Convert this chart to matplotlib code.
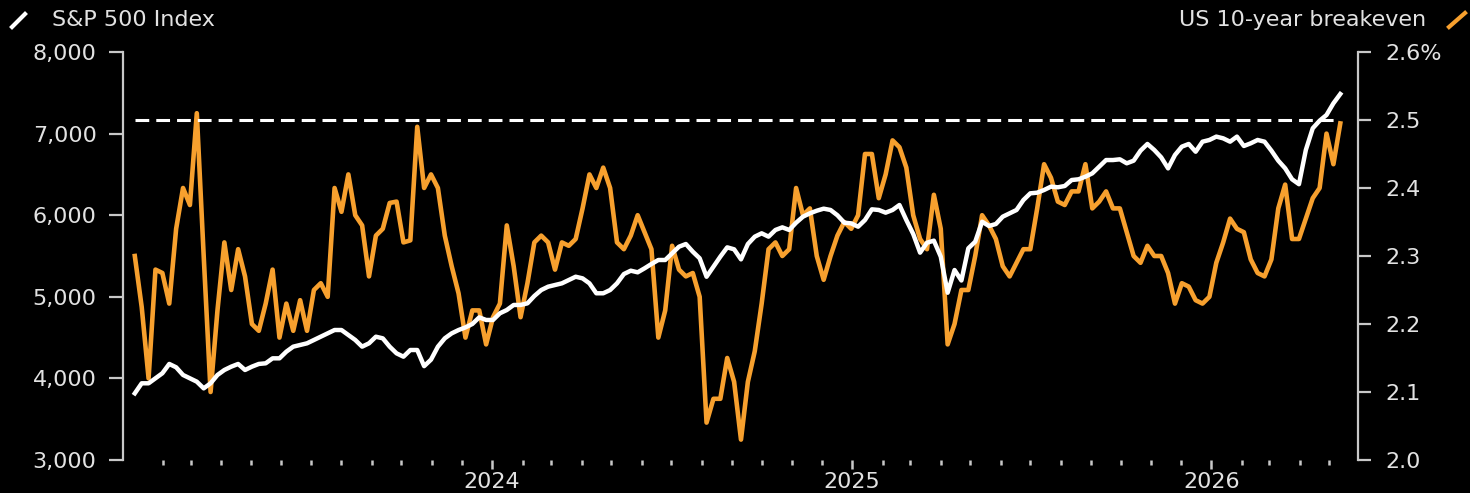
import numpy as np
import pandas as pd
import matplotlib
matplotlib.use("Agg")
import matplotlib.pyplot as plt
import matplotlib.dates as mdates
from matplotlib.lines import Line2D
from matplotlib.ticker import FuncFormatter

# weekly readings, first one on 3 Jan 2023
start = "2023-01-03"

spx = [3817, 3940, 3940, 4001, 4063, 4177, 4136, 4042, 4001, 3960,
       3878, 3940, 4042, 4103, 4144, 4177, 4103, 4144, 4177, 4185,
       4246, 4246, 4328, 4389, 4409, 4430, 4471, 4511, 4552, 4593,
       4593, 4532, 4471, 4389, 4430, 4511, 4491, 4389, 4307, 4266,
       4348, 4348, 4150, 4230, 4389, 4491, 4552, 4593, 4625, 4667,
       4748, 4716, 4716, 4798, 4838, 4900, 4900, 4920, 5010, 5083,
       5124, 5145, 5165, 5206, 5246, 5226, 5165, 5043, 5043, 5083,
       5165, 5279, 5320, 5300, 5349, 5402, 5451, 5451, 5533, 5614,
       5647, 5553, 5472, 5246, 5369, 5492, 5606, 5582, 5459, 5647,
       5737, 5778, 5737, 5819, 5851, 5819, 5908, 5982, 6023, 6055,
       6080, 6064, 5999, 5908, 5900, 5859, 5941, 6072, 6064, 6031,
       6064, 6125, 5941, 5770, 5541, 5663, 5688, 5492, 5050, 5328,
       5200, 5594, 5675, 5920, 5868, 5892, 5982, 6023, 6064, 6186,
       6268, 6276, 6309, 6350, 6342, 6358, 6431, 6440, 6472, 6513,
       6595, 6676, 6676, 6685, 6636, 6668, 6791, 6873, 6799, 6709,
       6574, 6738, 6840, 6873, 6778, 6901, 6922, 6963, 6942, 6901,
       6963, 6848, 6881, 6922, 6901, 6791, 6668, 6574, 6440, 6380,
       6800, 7065, 7158, 7228, 7371, 7485]

breakeven = [2.30, 2.225, 2.12, 2.28, 2.275, 2.23, 2.34, 2.40, 2.375, 2.51,
             2.30, 2.10, 2.22, 2.32, 2.25, 2.31, 2.27, 2.20, 2.19, 2.23,
             2.28, 2.18, 2.23, 2.19, 2.235, 2.19, 2.25, 2.26, 2.24, 2.40,
             2.365, 2.42, 2.36, 2.345, 2.27, 2.33, 2.34, 2.378, 2.38, 2.32,
             2.323, 2.49, 2.40, 2.42, 2.40, 2.33, 2.285, 2.245, 2.18, 2.22,
             2.22, 2.17, 2.21, 2.23, 2.345, 2.285, 2.21, 2.26, 2.32, 2.33,
             2.32, 2.28, 2.32, 2.315, 2.325, 2.37, 2.42, 2.40, 2.43, 2.40,
             2.32, 2.31, 2.33, 2.36, 2.335, 2.31, 2.18, 2.22, 2.315, 2.28,
             2.27, 2.275, 2.24, 2.055, 2.09, 2.09, 2.15, 2.115, 2.03, 2.115,
             2.16, 2.23, 2.31, 2.32, 2.30, 2.31, 2.40, 2.36, 2.37, 2.30,
             2.265, 2.30, 2.33, 2.35, 2.34, 2.36, 2.45, 2.45, 2.385, 2.42,
             2.47, 2.46, 2.43, 2.36, 2.325, 2.31, 2.39, 2.34, 2.17, 2.20,
             2.25, 2.25, 2.30, 2.36, 2.345, 2.325, 2.285, 2.27, 2.29, 2.31,
             2.31, 2.37, 2.435, 2.415, 2.38, 2.375, 2.395, 2.395, 2.435, 2.37,
             2.38, 2.395, 2.37, 2.37, 2.335, 2.30, 2.29, 2.315, 2.30, 2.30,
             2.275, 2.23, 2.26, 2.255, 2.235, 2.23, 2.24, 2.29, 2.32, 2.355,
             2.34, 2.335, 2.295, 2.275, 2.27, 2.295, 2.37, 2.405, 2.325, 2.325,
             2.355, 2.385, 2.40, 2.48, 2.435, 2.495]

target = 2.5
years = [2024, 2025, 2026]

dates = pd.date_range(start, periods=len(spx), freq="7D")

bg = "black"
fg = "#e2e2e2"
spine_col = "#c8c8c8"
orange = "#f7a02e"

fig = plt.figure(figsize=(14.7, 4.93), dpi=100, facecolor=bg)
ax = fig.add_axes([123 / 1470, 1 - 460 / 493, (1358 - 123) / 1470, (460 - 52) / 493])
ax2 = ax.twinx()
ax.set_zorder(ax2.get_zorder() + 1)
ax.patch.set_visible(False)

# breakeven on the right axis, below
ax2.plot(dates, breakeven, color=orange, lw=3.3)
ax2.hlines(target, dates[0], dates[-1], colors="white", lw=2.2,
           linestyles=(0, (4.5, 2.3)))
# S&P on the left axis, on top
ax.plot(dates, spx, color="white", lw=3.2)

ax.set_xlim(pd.Timestamp("2022-12-22"), pd.Timestamp("2026-05-30"))
ax.set_ylim(3000, 8000)
ax2.set_ylim(2.0, 2.6)

ax.set_yticks(np.arange(3000, 8001, 1000))
ax.yaxis.set_major_formatter(FuncFormatter(lambda v, p: f"{int(v):,}"))
ax2.set_yticks(np.arange(2.0, 2.61, 0.1))
ax2.yaxis.set_major_formatter(
    FuncFormatter(lambda v, p: f"{v:.1f}%" if v > 2.55 else f"{v:.1f}"))

ax.set_xticks([pd.Timestamp(f"{y}-01-01") for y in years])
ax.set_xticklabels([str(y) for y in years])
ax.xaxis.set_minor_locator(mdates.MonthLocator(bymonth=range(2, 13)))

for a in (ax, ax2):
    for s in a.spines.values():
        s.set_visible(False)
ax.spines["left"].set_visible(True)
ax.spines["left"].set_color(spine_col)
ax.spines["left"].set_linewidth(1.6)
ax2.spines["right"].set_visible(True)
ax2.spines["right"].set_color(spine_col)
ax2.spines["right"].set_linewidth(1.6)

ax.tick_params(axis="y", direction="out", length=10, width=1.6, color=spine_col,
               labelcolor=fg, labelsize=16, pad=9)
ax2.tick_params(axis="y", direction="out", length=9, width=1.6, color=spine_col,
                labelcolor=fg, labelsize=16, pad=11)
ax.tick_params(axis="x", which="major", direction="out", length=6.5, width=1.8,
               color=spine_col, labelcolor=fg, labelsize=16, pad=2)
ax.tick_params(axis="x", which="minor", direction="out", length=3.5, width=1.8,
               color=spine_col)

# header labels with line keys
fig.text(52 / 1470, 1 - 20 / 493, "S&P 500 Index", color=fg, fontsize=16,
         ha="left", va="center")
fig.text(1426 / 1470, 1 - 20 / 493, "US 10-year breakeven", color=fg, fontsize=16,
         ha="right", va="center")
fig.add_artist(Line2D([12 / 1470, 25 / 1470], [1 - 27 / 493, 1 - 14 / 493],
                      color="white", lw=3, transform=fig.transFigure))
fig.add_artist(Line2D([1449 / 1470, 1465 / 1470], [1 - 27 / 493, 1 - 13 / 493],
                      color=orange, lw=3, transform=fig.transFigure))

fig.savefig("out.png", dpi=100, facecolor=bg)
